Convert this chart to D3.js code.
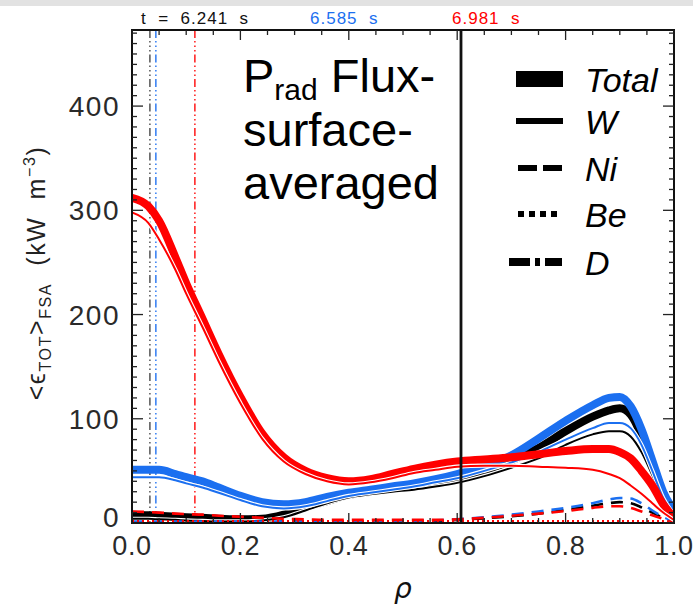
<!DOCTYPE html>
<html>
<head>
<meta charset="utf-8">
<script src="https://cdn.jsdelivr.net/npm/d3@7/dist/d3.min.js"></script>
<style>
  html, body { margin: 0; padding: 0; background: #fff; }
  svg { display: block; }
</style>
</head>
<body>
<svg id="chart" width="693" height="609"></svg>
<script>
// Normalised minor radius grid shared by all profiles
const rho = [0.00, 0.03, 0.05, 0.08, 0.10, 0.13, 0.16, 0.20, 0.24, 0.28,
             0.32, 0.36, 0.40, 0.44, 0.48, 0.52, 0.56, 0.60, 0.65, 0.70,
             0.75, 0.80, 0.85, 0.88, 0.90, 0.92, 0.94, 0.96, 0.98, 1.00];

// t = 6.241 s (kW m^-3)
const totalT1 = [8, 7.5, 7, 6, 5.5, 5, 4, 3.5, 4, 8, 15, 21, 27, 30, 33, 35, 38, 42, 50, 60,
                 72, 88, 102, 108, 110, 104, 84, 55, 28, 8];
const wT1     = [4, 4, 3.5, 3, 2.5, 2, 1.5, 1.5, 2.5, 5.5, 12, 19, 24.5, 27.5, 30, 32, 35, 38.5, 45, 53,
                 62, 75, 85, 88, 88, 83, 68, 46, 24, 6];
const niT1    = [1.5, 1.5, 1.5, 1.5, 1.5, 1.5, 1.5, 1.5, 1.5, 1.5, 1.5, 1.5, 1.5, 1.5, 1.7, 1.8, 2, 3, 4.5, 6.5,
                 9, 12.5, 16.5, 19, 20, 19, 15, 10, 5, 2];
const beT1    = [0.5, 0.5, 0.5, 0.5, 0.5, 0.5, 0.5, 0.5, 0.5, 0.5, 0.5, 0.5, 0.5, 0.5, 0.5, 0.5, 0.5, 0.5, 0.5, 0.5,
                 0.5, 0.5, 0.5, 0.5, 0.5, 0.5, 0.5, 0.5, 0.5, 0.5];

// t = 6.585 s
const totalT2 = [51, 51, 51, 47, 44, 40, 34, 26, 20, 18, 20, 25, 29, 32, 35, 38, 42, 47, 55, 65,
                 81, 98, 113, 120, 121, 112, 90, 60, 30, 12];
const wT2     = [44, 44, 44, 41, 38, 34, 29, 22, 16, 14, 16, 21, 26, 29, 32, 35, 39, 43, 50, 58,
                 68, 80, 91, 96, 96, 91, 75, 50, 24, 8];
const niT2    = [1.5, 1.5, 1.5, 1.5, 1.5, 1.5, 1.5, 1.5, 1.5, 1.5, 1.5, 1.5, 1.6, 1.8, 2, 2.2, 2.6, 3.5, 5.5, 8,
                 11, 14.5, 19, 22.5, 24, 23.5, 19, 12, 6, 2];
const beT2    = [1, 1, 1, 1, 1, 1, 1, 1, 1, 1, 1, 1, 1, 1, 1, 1, 1, 1, 1, 1,
                 1, 1, 1, 1, 1, 1, 1, 1, 1, 0.8];

// t = 6.981 s
const totalT3 = [312, 304, 290, 255, 230, 196, 162, 121, 86, 63, 50, 43, 40, 42, 47, 52, 56, 59, 61, 63,
                 66, 69, 71, 71, 68, 62, 50, 36, 18, 5];
const wT3     = [298, 288, 272, 243, 220, 188, 155, 115, 81, 59, 47, 40, 37, 39, 43, 48, 51, 54, 55, 55,
                 54, 53, 51, 47, 43, 36, 28, 19, 10, 3];
const niT3    = [11, 10.5, 10, 9, 8.5, 8, 7, 6, 5, 4, 3.5, 3, 3, 3, 3, 3, 3, 3.5, 5, 7,
                 9, 11.5, 14.5, 16, 16, 14.5, 11, 7.5, 4, 1.5];
const beT3    = [2, 2, 2, 2, 2, 2, 2, 2, 2, 2, 2, 2, 2, 2, 2, 2, 2, 2, 2, 2,
                 2, 2, 2, 2, 2, 2, 2, 2, 1.8, 1.5];

const times      = ["t  =  6.241  s", "6.585  s", "6.981  s"];
const timeColors = ["#000000", "#1b6ff0", "#ff0000"];
// rho positions of the time markers
const markerRho  = [0.033, 0.044, 0.116];
const sepRho     = 0.607;

const legendNames = ["Total", "W", "Ni", "Be", "D"];
const xTicks = [0.0, 0.2, 0.4, 0.6, 0.8, 1.0];
const yTicks = [0, 100, 200, 300, 400];

const svg = d3.select("#chart");
const W = 693, H = 609;
const plot = { left: 132, right: 674, top: 30, bottom: 523 };

// page band along the top edge
svg.append("rect").attr("x", 0).attr("y", 0).attr("width", W).attr("height", 6).attr("fill", "#e2e2e2");

const x = d3.scaleLinear().domain([0, 1]).range([plot.left, plot.right]);
const y = d3.scaleLinear().domain([0, 473]).range([plot.bottom, plot.top]);

svg.append("defs").append("clipPath").attr("id", "clip")
  .append("rect").attr("x", plot.left).attr("y", plot.top - 2)
  .attr("width", plot.right - plot.left).attr("height", plot.bottom - plot.top + 2);

const gPlot = svg.append("g").attr("clip-path", "url(#clip)");

const line = d3.line()
  .x((d, i) => x(rho[i]))
  .y(d => y(d))
  .curve(d3.curveMonotoneX);

// time marker verticals
const markDash = "8,3,1.5,3,1.5,3,1.5,3";
markerRho.forEach((r, i) => {
  gPlot.append("line")
    .attr("x1", x(r)).attr("x2", x(r))
    .attr("y1", plot.top).attr("y2", plot.bottom)
    .attr("stroke", i === 0 ? "#444" : timeColors[i])
    .attr("stroke-opacity", 0.85)
    .attr("stroke-width", 1.6)
    .attr("stroke-dasharray", markDash);
});

const profiles = [
  { color: timeColors[0], total: totalT1, w: wT1, ni: niT1, be: beT1 },
  { color: timeColors[1], total: totalT2, w: wT2, ni: niT2, be: beT2 },
  { color: timeColors[2], total: totalT3, w: wT3, ni: niT3, be: beT3 }
];

profiles.forEach(p => {
  gPlot.append("path").datum(p.be).attr("d", line)
    .attr("fill", "none").attr("stroke", p.color).attr("stroke-width", 2)
    .attr("stroke-dasharray", "2,3");
  gPlot.append("path").datum(p.ni).attr("d", line)
    .attr("fill", "none").attr("stroke", p.color).attr("stroke-width", 2.6)
    .attr("stroke-dasharray", "12,8");
  gPlot.append("path").datum(p.total).attr("d", line)
    .attr("fill", "none").attr("stroke", p.color).attr("stroke-width", 8)
    .attr("stroke-linejoin", "round");
  gPlot.append("path").datum(p.w).attr("d", line)
    .attr("fill", "none").attr("stroke", "#fff").attr("stroke-width", 4.2);
  gPlot.append("path").datum(p.w).attr("d", line)
    .attr("fill", "none").attr("stroke", p.color).attr("stroke-width", 2);
});

// separatrix-side marker
svg.append("line")
  .attr("x1", x(sepRho)).attr("x2", x(sepRho))
  .attr("y1", plot.top).attr("y2", plot.bottom)
  .attr("stroke", "#111").attr("stroke-width", 2.8);

// frame
svg.append("rect")
  .attr("x", plot.left).attr("y", plot.top)
  .attr("width", plot.right - plot.left).attr("height", plot.bottom - plot.top)
  .attr("fill", "none").attr("stroke", "#111").attr("stroke-width", 2);

// axes ticks
const axisColor = "#222";
const xMinor = d3.range(0, 1.0001, 0.05);
const yMinor = d3.range(0, 471, 10);
const gTicks = svg.append("g").attr("stroke", axisColor).attr("stroke-width", 1.3);
xMinor.forEach(v => {
  const major = Math.abs(v * 5 - Math.round(v * 5)) < 1e-6;
  const len = major ? 10 : 5;
  gTicks.append("line").attr("x1", x(v)).attr("x2", x(v)).attr("y1", plot.bottom).attr("y2", plot.bottom - len);
  gTicks.append("line").attr("x1", x(v)).attr("x2", x(v)).attr("y1", plot.top).attr("y2", plot.top + len);
});
yMinor.forEach(v => {
  const major = v % 100 === 0;
  const len = major ? 11 : 5;
  gTicks.append("line").attr("x1", plot.left).attr("x2", plot.left + len).attr("y1", y(v)).attr("y2", y(v));
  gTicks.append("line").attr("x1", plot.right).attr("x2", plot.right - len).attr("y1", y(v)).attr("y2", y(v));
});

const tickFont = "'Liberation Sans', Arial, sans-serif";
svg.append("g").selectAll("text").data(xTicks).join("text")
  .attr("x", d => x(d)).attr("y", plot.bottom + 32)
  .attr("text-anchor", "middle")
  .attr("font-family", tickFont).attr("font-size", 27).attr("letter-spacing", 0.6)
  .attr("fill", "#2a2a2a")
  .text(d => d.toFixed(1));

svg.append("g").selectAll("text").data(yTicks).join("text")
  .attr("x", plot.left - 12).attr("y", d => y(d) + (d === 0 ? 4 : 10))
  .attr("text-anchor", "end")
  .attr("font-family", tickFont).attr("font-size", 28).attr("letter-spacing", 1.5)
  .attr("fill", "#2a2a2a")
  .text(d => d);

// axis titles
svg.append("text")
  .attr("x", x(0.5)).attr("y", 598)
  .attr("text-anchor", "middle")
  .attr("font-family", "'DejaVu Sans', sans-serif").attr("font-style", "italic")
  .attr("font-size", 28).attr("fill", "#111")
  .text("ρ");

const yt = svg.append("text")
  .attr("transform", "translate(45,273) rotate(-90)")
  .attr("text-anchor", "middle")
  .attr("font-family", tickFont).attr("font-size", 25).attr("letter-spacing", 1.6)
  .attr("fill", "#222");
yt.append("tspan").text("<ϵ");
yt.append("tspan").attr("font-size", 16).attr("dy", 6).text("TOT");
yt.append("tspan").attr("dy", -6).text(">");
yt.append("tspan").attr("font-size", 16).attr("dy", 6).text("FSA");
yt.append("tspan").attr("dy", -6).attr("xml:space", "preserve").text("  (kW  m");
yt.append("tspan").attr("font-size", 16).attr("dy", -10).text("−3");
yt.append("tspan").attr("dy", 10).text(")");

// time labels above the frame
const timeX = [141, 310, 452];
times.forEach((t, i) => {
  svg.append("text")
    .attr("x", timeX[i]).attr("y", 24)
    .attr("font-family", tickFont).attr("font-size", 17).attr("letter-spacing", 1)
    .attr("fill", timeColors[i] === "#000000" ? "#111" : timeColors[i])
    .attr("xml:space", "preserve")
    .text(t);
});

// heading inside the plot
const headFont = "'Liberation Sans', Arial, sans-serif";
const h1 = svg.append("text").attr("x", 243).attr("y", 92)
  .attr("font-family", headFont).attr("font-size", 47).attr("fill", "#000");
h1.append("tspan").text("P");
h1.append("tspan").attr("font-size", 30).attr("dy", 8).text("rad");
h1.append("tspan").attr("dy", -8).text(" Flux-");
svg.append("text").attr("x", 243).attr("y", 146)
  .attr("font-family", headFont).attr("font-size", 47).attr("fill", "#000").text("surface-");
svg.append("text").attr("x", 243).attr("y", 199)
  .attr("font-family", headFont).attr("font-size", 47).attr("fill", "#000").text("averaged");

// legend
const legY = [79, 121, 168, 214, 262];
const legStyles = [
  { w: 16, dash: null, x1: 516, x2: 563 },
  { w: 6, dash: null, x1: 516, x2: 563 },
  { w: 6, dash: "19,6", x1: 518, x2: 562 },
  { w: 6, dash: "6,5", x1: 518, x2: 562 },
  { w: 8, dash: "21,5,5,5", x1: 509, x2: 562 }
];
legendNames.forEach((n, i) => {
  const s = legStyles[i];
  const l = svg.append("line")
    .attr("x1", s.x1).attr("x2", s.x2).attr("y1", legY[i]).attr("y2", legY[i])
    .attr("stroke", "#000").attr("stroke-width", s.w);
  if (s.dash) l.attr("stroke-dasharray", s.dash);
  svg.append("text")
    .attr("x", 585).attr("y", legY[i] + 13)
    .attr("font-family", headFont).attr("font-style", "italic")
    .attr("font-size", 34).attr("fill", "#000")
    .text(n);
});
</script>
</body>
</html>
